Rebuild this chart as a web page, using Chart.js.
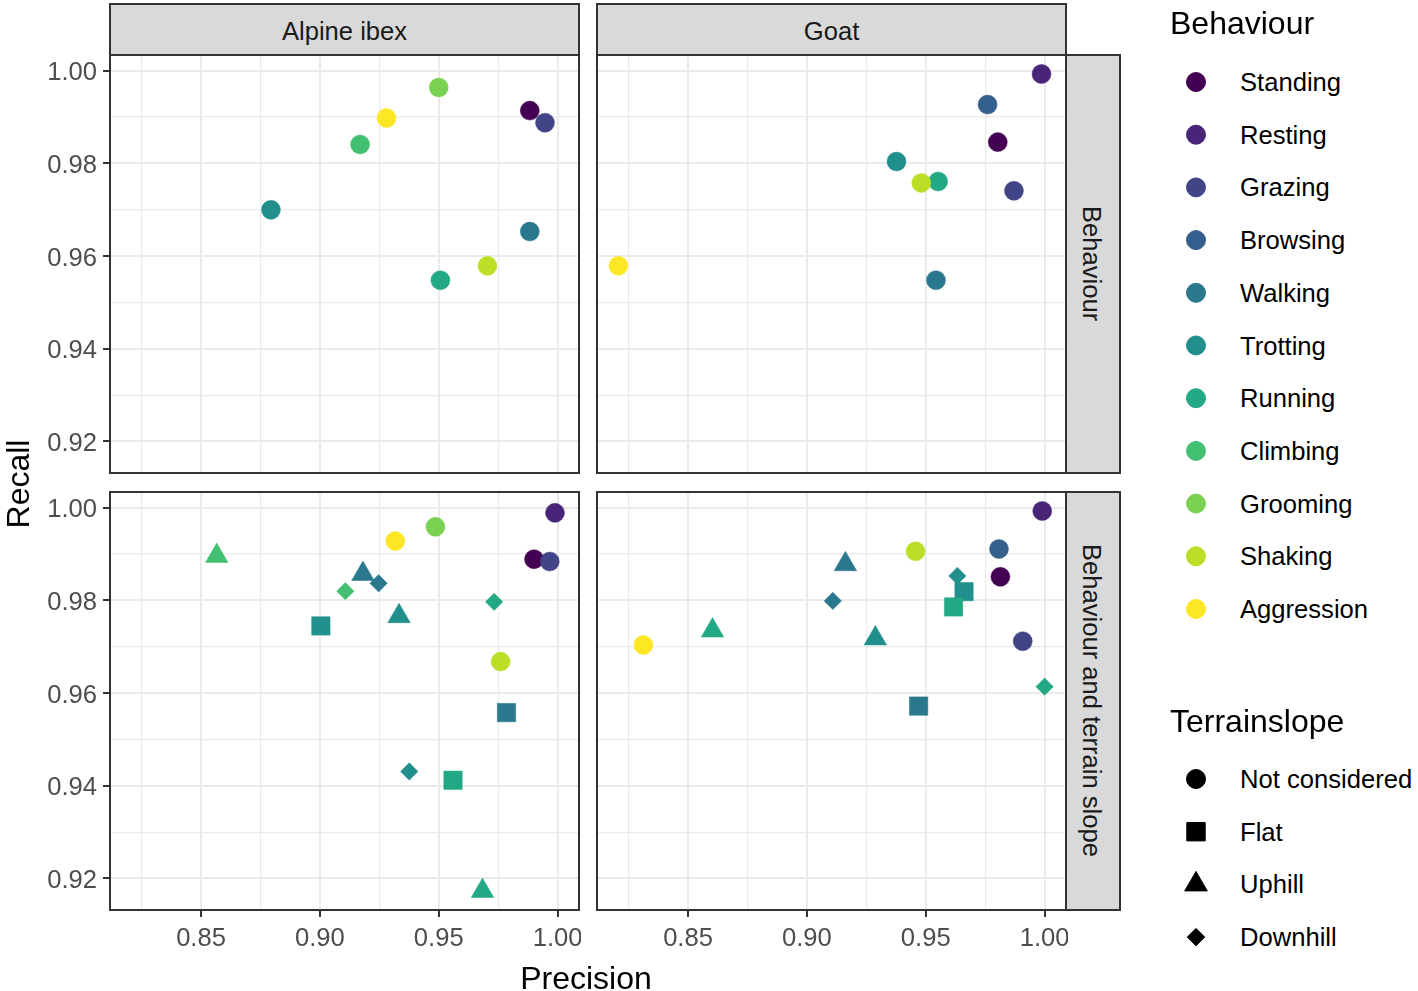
<!DOCTYPE html>
<html>
<head>
<meta charset="utf-8">
<title>Precision and recall per behaviour</title>
<script src="https://cdn.jsdelivr.net/npm/chart.js@4.4.1/dist/chart.umd.min.js"></script>
<style>
  body { margin: 0; background: #fff; font-family: "Liberation Sans", Arial, sans-serif; }
  #wrap { position: relative; width: 1418px; height: 991px; overflow: hidden; }
  canvas.panel { position: absolute; }
  .strip { position: absolute; box-sizing: border-box; background: #d9d9d9; border: 2px solid #333;
           color: #1a1a1a; font-size: 25.6px; display: flex; align-items: center; justify-content: center; }
  .strip.h { padding-top: 4px; }
  .strip.v { writing-mode: vertical-rl; padding-right: 3px; }
  .title { position: absolute; font-size: 32px; line-height: 32px; color: #000; white-space: nowrap; }
  .leg { position: absolute; left: 1240px; font-size: 25.6px; line-height: 26px; color: #000; white-space: nowrap; }
  #legendKeys { position: absolute; left: 1170px; top: 0; }
</style>
</head>
<body>
<div id="wrap">
  <canvas id="ibexBeh" class="panel" width="581" height="422" style="left:0;top:53px"></canvas>
  <canvas id="goatBeh" class="panel" width="473" height="422" style="left:595px;top:53px"></canvas>
  <canvas id="ibexTer" class="panel" width="581" height="478" style="left:0;top:490px"></canvas>
  <canvas id="goatTer" class="panel" width="473" height="478" style="left:595px;top:490px"></canvas>

  <div class="strip h" style="left:109px;top:3px;width:471px;height:53px">Alpine ibex</div>
  <div class="strip h" style="left:596px;top:3px;width:471px;height:53px">Goat</div>
  <div class="strip v" style="left:1065px;top:54px;width:56px;height:420px">Behaviour</div>
  <div class="strip v" style="left:1065px;top:491px;width:56px;height:420px">Behaviour and terrain slope</div>

  <div class="title" style="left:386px;top:962px;width:400px;text-align:center">Precision</div>
  <div class="title" style="left:-82px;top:468px;width:200px;text-align:center;transform:rotate(-90deg)">Recall</div>

  <canvas id="legendKeys" width="60" height="991"></canvas>
  <div id="legend"></div>
</div>

<script>
// behaviour classes and terrain slope classes
const behaviours = ['Standing', 'Resting', 'Grazing', 'Browsing', 'Walking', 'Trotting',
  'Running', 'Climbing', 'Grooming', 'Shaking', 'Aggression'];
const terrains = ['Not considered', 'Flat', 'Uphill', 'Downhill'];

// axis ticks
const xTicks = [0.85, 0.90, 0.95, 1.00];
const yTicks = [0.92, 0.94, 0.96, 0.98, 1.00];

// Alpine ibex, behaviour only
const ibexBehLabel = ['Standing', 'Grazing', 'Walking', 'Trotting', 'Running', 'Climbing', 'Grooming', 'Shaking', 'Aggression'];
const ibexBehPrecision = [0.9883, 0.9947, 0.9883, 0.8794, 0.9507, 0.9169, 0.9500, 0.9705, 0.9280];
const ibexBehRecall = [0.9914, 0.9888, 0.9653, 0.9700, 0.9548, 0.9841, 0.9964, 0.9579, 0.9898];

// Goat, behaviour only
const goatBehLabel = ['Standing', 'Resting', 'Grazing', 'Browsing', 'Walking', 'Trotting', 'Running', 'Shaking', 'Aggression'];
const goatBehPrecision = [0.9803, 0.9987, 0.9871, 0.9760, 0.9543, 0.9377, 0.9552, 0.9481, 0.8207];
const goatBehRecall = [0.9846, 0.9993, 0.9741, 0.9927, 0.9548, 0.9804, 0.9761, 0.9758, 0.9579];

// Alpine ibex, behaviour and terrain slope
const ibexTerLabel = ['Standing', 'Resting', 'Grazing', 'Walking', 'Walking', 'Walking', 'Trotting', 'Trotting', 'Trotting',
  'Running', 'Running', 'Running', 'Climbing', 'Climbing', 'Grooming', 'Shaking', 'Aggression'];
const ibexTerSlope = ['Not considered', 'Not considered', 'Not considered', 'Flat', 'Uphill', 'Downhill', 'Flat', 'Uphill', 'Downhill',
  'Flat', 'Uphill', 'Downhill', 'Uphill', 'Downhill', 'Not considered', 'Not considered', 'Not considered'];
const ibexTerPrecision = [0.9901, 0.9989, 0.9967, 0.9785, 0.9181, 0.9247, 0.9004, 0.9333, 0.9376,
  0.9560, 0.9684, 0.9733, 0.8566, 0.9107, 0.9486, 0.9760, 0.9317];
const ibexTerRecall = [0.9889, 0.9989, 0.9884, 0.9558, 0.9857, 0.9837, 0.9745, 0.9766, 0.9431,
  0.9412, 0.9173, 0.9797, 0.9896, 0.9820, 0.9959, 0.9668, 0.9928];

// Goat, behaviour and terrain slope
const goatTerLabel = ['Standing', 'Resting', 'Grazing', 'Browsing', 'Walking', 'Walking', 'Walking', 'Trotting', 'Trotting', 'Trotting',
  'Running', 'Running', 'Running', 'Shaking', 'Aggression'];
const goatTerSlope = ['Not considered', 'Not considered', 'Not considered', 'Not considered', 'Flat', 'Uphill', 'Downhill',
  'Flat', 'Uphill', 'Downhill', 'Flat', 'Uphill', 'Downhill', 'Not considered', 'Not considered'];
const goatTerPrecision = [0.9814, 0.9990, 0.9908, 0.9808, 0.9470, 0.9162, 0.9109, 0.9661, 0.9288, 0.9633,
  0.9617, 0.8603, 1.0000, 0.9457, 0.8312];
const goatTerRecall = [0.9851, 0.9993, 0.9712, 0.9911, 0.9572, 0.9878, 0.9799, 0.9819, 0.9718, 0.9853,
  0.9786, 0.9735, 0.9614, 0.9906, 0.9704];

// viridis palette, one colour per behaviour
const palette = ['#440154', '#482576', '#414487', '#35608D', '#2A788E', '#21908C',
  '#22A884', '#43BF71', '#7AD151', '#BBDF27', '#FDE725'];
const shapes = { 'Not considered': 'circle', 'Flat': 'rect', 'Uphill': 'triangle', 'Downhill': 'rectRot' };
const sizes = { 'Not considered': 9.5, 'Flat': 13, 'Uphill': 13, 'Downhill': 8.7 };

const colourOf = b => palette[behaviours.indexOf(b)];
const near = (list, v) => list.some(t => Math.abs(t - v) < 1e-6);

// minor grid lines half way between labelled ticks
const xGrid = [0.825].concat(...xTicks.map(v => [v, v + 0.025])).filter(v => v < 1.009);
const yGrid = [].concat(...yTicks.map(v => [v, v + 0.01])).filter(v => v < 1.0034);

Chart.defaults.font.family = '"Liberation Sans", Arial, sans-serif';

const panelBorder = {
  id: 'panelBorder',
  afterDatasetsDraw(chart) {
    const a = chart.chartArea;
    const ctx = chart.ctx;
    ctx.save();
    ctx.strokeStyle = '#333';
    ctx.lineWidth = 2;
    ctx.strokeRect(a.left, a.top, a.right - a.left, a.bottom - a.top);
    ctx.restore();
  }
};

function axis(gridValues, labelled, min, max, show, fitSize, horizontal) {
  return {
    type: 'linear',
    min: min,
    max: max,
    afterBuildTicks: s => { s.ticks = gridValues.map(v => ({ value: v })); },
    afterFit: s => {
      if (horizontal) s.height = fitSize; else s.width = fitSize;
      s.paddingLeft = s.paddingRight = s.paddingTop = s.paddingBottom = 0;
    },
    border: { display: false },
    grid: {
      color: '#ebebeb',
      lineWidth: c => (c.tick && near(labelled, c.tick.value)) ? 2 : 1.2,
      drawTicks: show,
      tickLength: 7,
      tickWidth: 2,
      tickColor: c => (c.tick && near(labelled, c.tick.value)) ? '#333' : 'rgba(0,0,0,0)'
    },
    ticks: {
      display: show,
      autoSkip: false,
      maxRotation: 0,
      padding: horizontal ? 7 : 6,
      labelOffset: horizontal ? 0 : 2.5,
      color: '#4d4d4d',
      font: { size: 25.6 },
      callback: v => near(labelled, v) ? v.toFixed(2) : ''
    }
  };
}

function panel(id, labels, slopes, precision, recall, showX, showY) {
  const styles = slopes.map(t => shapes[t]);
  const radii = slopes.map(t => sizes[t]);
  const colours = labels.map(colourOf);
  new Chart(document.getElementById(id), {
    type: 'scatter',
    data: {
      datasets: [{
        data: precision.map((p, i) => ({ x: p, y: recall[i] })),
        pointStyle: styles,
        pointRadius: radii,
        pointHoverRadius: radii,
        pointBackgroundColor: colours,
        pointBorderColor: colours,
        pointBorderWidth: 0.5
      }]
    },
    options: {
      responsive: false,
      animation: false,
      devicePixelRatio: 1,
      events: [],
      layout: {
        autoPadding: false,
        padding: { top: 2, right: 2, left: showY ? 0 : 2, bottom: showX ? 0 : 2 }
      },
      plugins: { legend: { display: false }, tooltip: { enabled: false } },
      scales: {
        x: axis(xGrid, xTicks, 0.8117, 1.009, showX, showX ? 58 : 0, true),
        y: axis(yGrid, yTicks, 0.9132, 1.0034, showY, showY ? 110 : 0, false)
      }
    },
    plugins: [panelBorder]
  });
}

const allSlopes = n => new Array(n).fill('Not considered');
panel('ibexBeh', ibexBehLabel, allSlopes(ibexBehLabel.length), ibexBehPrecision, ibexBehRecall, false, true);
panel('goatBeh', goatBehLabel, allSlopes(goatBehLabel.length), goatBehPrecision, goatBehRecall, false, false);
panel('ibexTer', ibexTerLabel, ibexTerSlope, ibexTerPrecision, ibexTerRecall, true, true);
panel('goatTer', goatTerLabel, goatTerSlope, goatTerPrecision, goatTerRecall, true, false);

// legends
const legend = document.getElementById('legend');
const keyCtx = document.getElementById('legendKeys').getContext('2d');

function addText(text, top, cls, left) {
  const d = document.createElement('div');
  d.className = cls;
  d.textContent = text;
  d.style.top = top + 'px';
  if (left !== undefined) d.style.left = left + 'px';
  legend.appendChild(d);
}

function key(style, radius, colour, y) {
  keyCtx.fillStyle = colour;
  keyCtx.strokeStyle = colour;
  if (Chart.helpers && Chart.helpers.drawPoint) {
    Chart.helpers.drawPoint(keyCtx, { pointStyle: style, radius: radius, borderWidth: 0.5, rotation: 0 }, 26, y);
    return;
  }
  keyCtx.beginPath();
  keyCtx.arc(26, y, radius, 0, Math.PI * 2);
  keyCtx.fill();
}

addText('Behaviour', 7, 'title', 1170);
behaviours.forEach((b, i) => {
  const cy = 82 + i * 52.7;
  addText(b, cy - 13, 'leg');
  key('circle', 9.5, palette[i], cy);
});

addText('Terrainslope', 705, 'title', 1170);
terrains.forEach((t, i) => {
  const cy = 779 + i * 52.7;
  addText(t, cy - 13, 'leg');
  key(shapes[t], sizes[t], '#000', cy);
});
</script>
</body>
</html>
